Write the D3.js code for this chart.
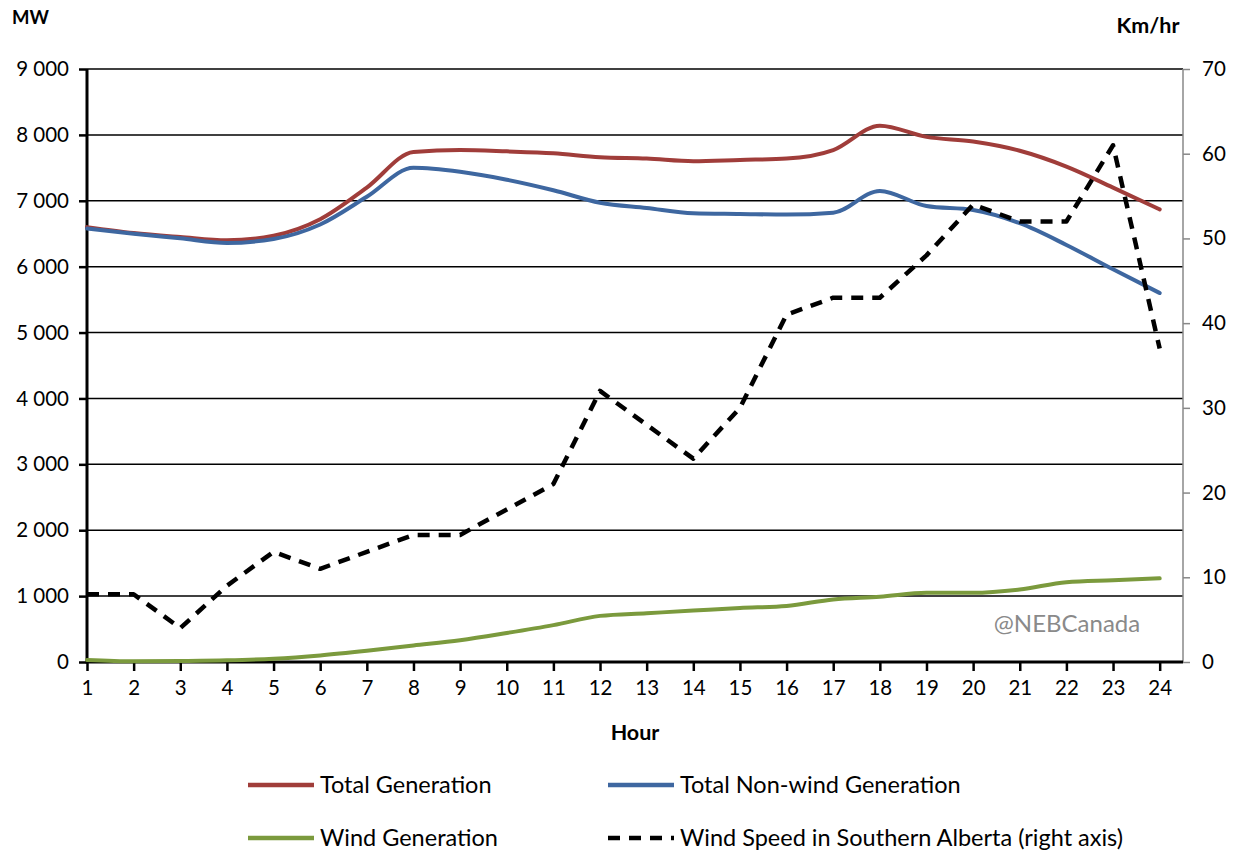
<!DOCTYPE html>
<html><head><meta charset="utf-8">
<script src="https://cdn.jsdelivr.net/npm/d3@7"></script>
<style>
body{margin:0;background:#fff;}
text{font-family:Lato,"Open Sans",sans-serif;}
</style></head>
<body><svg id="c" width="1242" height="852"></svg>
<script>
const hours = d3.range(1, 25);
const totalGeneration = [6600,6510,6450,6400,6470,6720,7200,7740,7770,7750,7720,7660,7640,7600,7620,7640,7770,8140,7970,7900,7760,7520,7200,6870];
const nonWindGeneration = [6580,6500,6430,6360,6420,6640,7060,7500,7440,7320,7160,6970,6890,6810,6800,6790,6820,7150,6920,6860,6660,6330,5960,5600];
const windGeneration = [30,10,15,25,50,100,170,250,330,440,560,700,740,780,820,850,950,990,1050,1050,1100,1210,1240,1270];
const windSpeed = [8,8,4,9,13,11,13,15,15,18,21,32,28,24,30,41,43,43,48,54,52,52,61,37];
const leftTicks = d3.range(0, 9001, 1000);
const rightTicks = d3.range(0, 71, 10);

const svg = d3.select("#c");
const L = 87, R = 1183, T = 69, B = 662;
const x = d3.scaleLinear().domain([1, 24.5]).range([L, R]);
const yL = d3.scaleLinear().domain([0, 9000]).range([B, T]);
const yR = d3.scaleLinear().domain([0, 70]).range([B, T]);

// gridlines
svg.append("g").selectAll("line").data(leftTicks.filter(d => d > 0)).join("line")
  .attr("x1", L).attr("x2", R).attr("y1", d => yL(d)).attr("y2", d => yL(d))
  .attr("stroke", "#000").attr("stroke-width", 1.5);

// left axis
const gl = svg.append("g").attr("transform", `translate(${L},0)`)
  .call(d3.axisLeft(yL).tickValues(leftTicks).tickSize(8).tickPadding(10).tickFormat(d => d3.format(",")(d).replace(",", " ")));
gl.select(".domain").remove();
gl.selectAll("line").attr("stroke", "#000").attr("stroke-width", 2.5);
gl.selectAll("text").attr("font-size", 20.5).attr("fill", "#000");
svg.append("line").attr("x1", L).attr("x2", L).attr("y1", T).attr("y2", B).attr("stroke", "#000").attr("stroke-width", 3);

// right axis
const gr = svg.append("g").attr("transform", `translate(${R},0)`)
  .call(d3.axisRight(yR).tickValues(rightTicks).tickSize(7).tickPadding(12));
gr.select(".domain").remove();
gr.selectAll("line").attr("stroke", "#888").attr("stroke-width", 1.5);
gr.selectAll("text").attr("font-size", 20.5).attr("fill", "#000");
svg.append("line").attr("x1", R).attr("x2", R).attr("y1", T).attr("y2", B).attr("stroke", "#888").attr("stroke-width", 1.5);

// bottom axis
const gb = svg.append("g").attr("transform", `translate(0,${B})`)
  .call(d3.axisBottom(x).tickValues(hours).tickSize(9).tickPadding(9).tickFormat(d3.format("d")));
gb.select(".domain").remove();
gb.selectAll("line").attr("stroke", "#000").attr("stroke-width", 2.5);
gb.selectAll("text").attr("font-size", 20.5).attr("fill", "#000");
svg.append("line").attr("x1", L - 1.5).attr("x2", R).attr("y1", B).attr("y2", B).attr("stroke", "#000").attr("stroke-width", 3);

// series
const lineL = d3.line().x((d, i) => x(hours[i])).y(d => yL(d)).curve(d3.curveMonotoneX);
const lineR = d3.line().x((d, i) => x(hours[i])).y(d => yR(d));
const series = [
  {v: totalGeneration, c: "#A03D3A"},
  {v: nonWindGeneration, c: "#3E67A0"},
  {v: windGeneration, c: "#7B9A3D"}
];
series.forEach(s => svg.append("path").attr("d", lineL(s.v)).attr("fill", "none")
  .attr("stroke", s.c).attr("stroke-width", 4).attr("stroke-linecap", "round"));
svg.append("path").attr("d", lineR(windSpeed)).attr("fill", "none")
  .attr("stroke", "#000").attr("stroke-width", 4.5).attr("stroke-dasharray", "12,9").attr("stroke-linejoin", "round");

// labels
svg.append("text").attr("x", 12).attr("y", 24).attr("font-size", 18.5).attr("font-weight", "bold").text("MW");
svg.append("text").attr("x", 1148).attr("y", 33).attr("text-anchor", "middle").attr("font-size", 21.5).attr("font-weight", "bold").text("Km/hr");
svg.append("text").attr("x", 635).attr("y", 740).attr("text-anchor", "middle").attr("font-size", 21.5).attr("font-weight", "bold").text("Hour");
svg.append("text").attr("x", 1067).attr("y", 632).attr("text-anchor", "middle").attr("font-size", 24).attr("fill", "#8a8a8a").text("@NEBCanada");

// legend
const legend = [
  {name: "Total Generation", c: "#A03D3A", x: 248, y: 785, dash: null},
  {name: "Total Non-wind Generation", c: "#3E67A0", x: 608, y: 785, dash: null},
  {name: "Wind Generation", c: "#7B9A3D", x: 248, y: 838, dash: null},
  {name: "Wind Speed in Southern Alberta (right axis)", c: "#000", x: 608, y: 838, dash: "12,9"}
];
legend.forEach(l => {
  svg.append("line").attr("x1", l.x).attr("x2", l.x + 66).attr("y1", l.y).attr("y2", l.y)
    .attr("stroke", l.c).attr("stroke-width", 4.5).attr("stroke-dasharray", l.dash);
  svg.append("text").attr("x", l.x + 72).attr("y", l.y + 8).attr("font-size", 23.5).text(l.name);
});
</script></body></html>
